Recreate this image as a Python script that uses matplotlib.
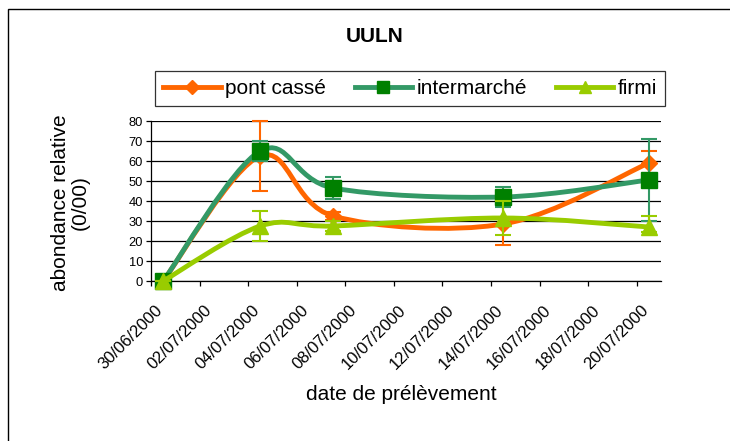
import numpy as np
import matplotlib
matplotlib.use("Agg")
import matplotlib.pyplot as plt
import matplotlib.transforms as mtransforms
from matplotlib.path import Path
from matplotlib.patches import PathPatch, Rectangle
from matplotlib.lines import Line2D

plt.rcParams['font.family'] = ['Liberation Sans', 'DejaVu Sans']

# jours depuis le 30/06/2000 (les points sont centrés sur le jour)
jours = [0, 4, 7, 14, 20]
etiquettes = ["30/06/2000", "02/07/2000", "04/07/2000", "06/07/2000",
              "08/07/2000", "10/07/2000", "12/07/2000", "14/07/2000",
              "16/07/2000", "18/07/2000", "20/07/2000"]

pont_casse = [0, 62.5, 32.5, 28.5, 59]
pont_casse_bas = [0, 17.5, 2, 10.5, 6]
pont_casse_haut = [0, 17.5, 2, 10.5, 6]
intermarche = [0, 65, 46.5, 42, 50.5]
intermarche_bas = [0, 5, 5.5, 5, 20.5]
intermarche_haut = [0, 5, 5.5, 5, 20.5]
firmi = [0, 27.5, 27.5, 31.5, 27]
firmi_bas = [0, 7.5, 2.5, 8.5, 2.5]
firmi_haut = [0, 7.5, 2.5, 8.5, 5.5]

series = [
    ("pont cassé", pont_casse, pont_casse_bas, pont_casse_haut,
     "#FF6600", "#FF6600", "D", 8),
    ("intermarché", intermarche, intermarche_bas, intermarche_haut,
     "#339966", "#008000", "s", 11),
    ("firmi", firmi, firmi_bas, firmi_haut,
     "#99CC00", "#99CC00", "^", 11),
]


def courbe_lissee(x, y):
    # courbe de Bézier type Catmull-Rom (lissage façon Excel)
    pts = np.column_stack([x, y]).astype(float)
    n = len(pts)
    verts = [pts[0]]
    codes = [Path.MOVETO]
    for i in range(n - 1):
        p0 = pts[max(i - 1, 0)]
        p1 = pts[i]
        p2 = pts[i + 1]
        p3 = pts[min(i + 2, n - 1)]
        verts += [p1 + (p2 - p0) / 6, p2 - (p3 - p1) / 6, p2]
        codes += [Path.CURVE4] * 3
    return Path(verts, codes)


fig = plt.figure(figsize=(7.3, 4.41), dpi=100)
ax = fig.add_axes([151 / 730, 1 - 281 / 441, 510 / 730, 160 / 441])

x = np.array(jours) + 0.5
handles = []
for z, (nom, y, bas, haut, c_ligne, c_mark, mk, ms) in enumerate(series):
    ax.add_patch(PathPatch(courbe_lissee(x, y), facecolor="none",
                           edgecolor=c_ligne, lw=3.5, zorder=3 + z,
                           capstyle="round", clip_on=False))
    ax.errorbar(x, y, yerr=[bas, haut], fmt="none", ecolor=c_ligne,
                elinewidth=1.5, capsize=5.5, capthick=1.5, zorder=3 + z,
                clip_on=False)
    ax.plot(x, y, linestyle="none", marker=mk, markersize=ms,
            markerfacecolor=c_mark, markeredgecolor=c_mark, zorder=3.5 + z,
            clip_on=False)
    handles.append(Line2D([], [], color=c_ligne, lw=3.5, marker=mk,
                          markersize=ms * 0.85, markerfacecolor=c_mark,
                          markeredgecolor=c_mark, label=nom))

ax.set_xlim(0, 21)
ax.set_ylim(0, 80)
ax.set_yticks(np.arange(0, 81, 10))
ax.yaxis.grid(True, color="black", lw=0.9)
ax.set_axisbelow(True)
ax.set_xticks(np.arange(0, 21, 2))
ax.set_xticklabels(etiquettes, rotation=45, ha="right", va="top",
                   rotation_mode="anchor")
ax.tick_params(axis="x", labelsize=12, length=3.6, width=0.9, pad=12)
ax.tick_params(axis="y", labelsize=9.3, length=3.6, width=0.9, pad=2)
decal = mtransforms.ScaledTranslation(4 / 100, 0, fig.dpi_scale_trans)
for lab in ax.get_xticklabels():
    lab.set_transform(lab.get_transform() + decal)
for s in ["top", "right"]:
    ax.spines[s].set_visible(False)
for s in ["left", "bottom"]:
    ax.spines[s].set_linewidth(0.9)

leg = fig.legend(handles=handles, loc="center", bbox_to_anchor=(410 / 730, 0.7993),
                 ncol=3, fontsize=15, frameon=True, fancybox=False,
                 edgecolor="black", handlelength=2.75, handletextpad=0.2,
                 columnspacing=1.4, borderpad=0.4, borderaxespad=0)
leg.get_frame().set_linewidth(0.9)

fig.text(374.7 / 730, 0.918, "UULN", ha="center", va="center", fontsize=15,
         fontweight="bold")
fig.text(70 / 730, 0.54, "abondance relative\n(0/00)", ha="center", va="center",
         rotation=90, fontsize=15, linespacing=1.05)
fig.text(401 / 730, 1 - 395 / 441, "date de prélèvement", ha="center",
         va="center", fontsize=15)

fig.patches.append(Rectangle((8 / 730, -0.05), 1.0, 0.98 + 0.05,
                             transform=fig.transFigure, fill=False,
                             edgecolor="black", lw=1.0))

fig.savefig("out.png", dpi=100)
